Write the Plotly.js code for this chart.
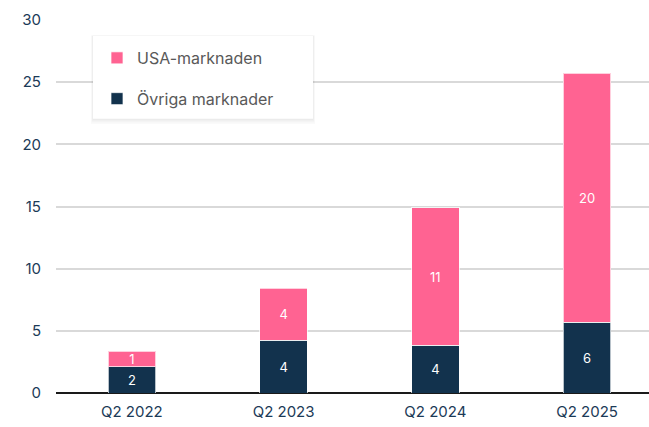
<!DOCTYPE html>
<html>
<head>
<meta charset="utf-8">
<script src="https://cdn.plot.ly/plotly-3.0.1.min.js"></script>
<style>html,body{margin:0;padding:0;background:#fff;}#chart{width:649px;height:427px;}</style>
</head>
<body>
<div id="chart"></div>
<script>
var categories = ["Q2 2022", "Q2 2023", "Q2 2024", "Q2 2025"];
var ovrigaValues = [2.1, 4.25, 3.85, 5.7];
var usaValues = [1.25, 4.17, 11.03, 20.0];
var seriesNames = ["Övriga marknader", "USA-marknaden"];
var yTicks = [0, 5, 10, 15, 20, 25, 30];

var FONT = "Inter, 'Open Sans', sans-serif";
var navy = "#12324d";
var pink = "#ff6392";

var traces = [
  {
    type: "bar", name: seriesNames[0], x: categories, y: ovrigaValues,
    marker: {color: navy, line: {color: "rgba(255,255,255,0.7)", width: 1}},
    texttemplate: "%{y:.0f}", textposition: "inside", insidetextanchor: "middle",
    textangle: 0, constraintext: "none", textfont: {color: "#ffffff", size: 13, family: FONT},
    legendgroup: "a", legendrank: 2, hoverinfo: "skip"
  },
  {
    type: "bar", name: seriesNames[1], x: categories, y: usaValues,
    marker: {color: pink, line: {color: "rgba(255,255,255,0.7)", width: 1}},
    texttemplate: "%{y:.0f}", textposition: "inside", insidetextanchor: "middle",
    textangle: 0, constraintext: "none", textfont: {color: "#ffffff", size: 13, family: FONT},
    legendgroup: "b", legendrank: 1, hoverinfo: "skip"
  }
];

var shapes = [];
// legend card with soft shadow
for (var i = 4; i >= 1; i--) {
  shapes.push({type: "rect", xref: "paper", yref: "paper", layer: "above",
    x0: (93 - 56 - i * 0.5) / 593, x1: (313 - 56 + i * 0.5) / 593,
    y0: (393 - 118 - i * 1.3) / 374, y1: (393 - 35 + i * 0.2) / 374,
    fillcolor: "rgba(0,0,0,0.02)", line: {width: 0}});
}
shapes.push({type: "rect", xref: "paper", yref: "paper", layer: "above",
  x0: (93 - 56) / 593, x1: (313 - 56) / 593,
  y0: (393 - 118) / 374, y1: (393 - 35) / 374,
  fillcolor: "#ffffff", line: {width: 0}});

var layout = {
  width: 649, height: 427,
  margin: {l: 56, r: 0, t: 20, b: 34, pad: 0},
  paper_bgcolor: "#ffffff", plot_bgcolor: "#ffffff",
  barmode: "stack", bargap: 0.687,
  font: {family: FONT, color: "#1b3a57", size: 15},
  showlegend: true,
  legend: {
    x: (97 - 56) / 593, y: (393 - 40) / 374, xanchor: "left", yanchor: "top",
    bgcolor: "rgba(0,0,0,0)", borderwidth: 0,
    font: {family: FONT, size: 16, color: "#595959"},
    traceorder: "grouped", tracegroupgap: 17
  },
  xaxis: {
    type: "category", range: [-0.5, 3.408], fixedrange: true,
    showgrid: false, showline: false, zeroline: false, ticks: "",
    ticklabelstandoff: 8,
    tickfont: {family: FONT, size: 15, color: "#1b3a57"}
  },
  yaxis: {
    range: [0, 30], tickvals: yTicks, ticktext: yTicks.map(String),
    showgrid: true, gridcolor: "#d9d9d9", gridwidth: 2,
    zeroline: true, zerolinecolor: "#1a1a1a", zerolinewidth: 2,
    showline: false, ticks: "", ticklabelstandoff: 14,
    tickfont: {family: FONT, size: 15, color: "#1b3a57"}
  },
  shapes: shapes
};

Plotly.newPlot("chart", traces, layout, {displayModeBar: false, staticPlot: true});
</script>
</body>
</html>
